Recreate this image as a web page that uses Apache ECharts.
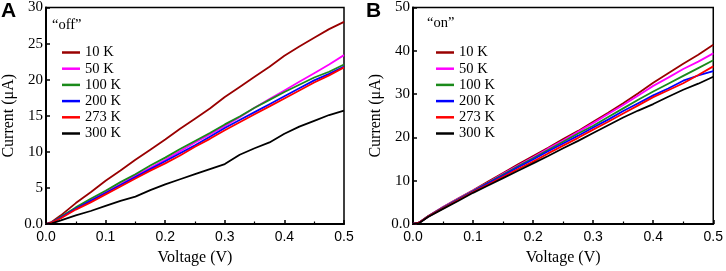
<!DOCTYPE html>
<html><head><meta charset="utf-8">
<script src="https://cdn.jsdelivr.net/npm/echarts@6/dist/echarts.min.js"></script>
<style>html,body{margin:0;padding:0;background:#fff}#c{width:726px;height:271px}</style>
</head><body><div id="c"></div>
<script>
var voltage = [0, 0.01, 0.025, 0.05, 0.075, 0.1, 0.125, 0.15, 0.175, 0.2, 0.225, 0.25, 0.275, 0.3, 0.325, 0.35, 0.375, 0.4, 0.425, 0.45, 0.475, 0.5];
var names = ['10 K', '50 K', '100 K', '200 K', '273 K', '300 K'];
var colors = ['#990000', '#ff00ff', '#1a8a1a', '#0000ff', '#ff0000', '#000000'];
var offCurrent = [
  [0, 0.3, 1.2, 2.9, 4.4, 6.0, 7.4, 8.9, 10.3, 11.7, 13.2, 14.6, 16.0, 17.6, 19.0, 20.4, 21.8, 23.3, 24.6, 25.8, 27.0, 28.0],
  [0, 0.2, 0.9, 2.2, 3.3, 4.4, 5.5, 6.7, 7.8, 8.9, 10.1, 11.3, 12.4, 13.6, 14.8, 16.1, 17.3, 18.5, 19.7, 20.9, 22.1, 23.4],
  [0, 0.2, 1.0, 2.3, 3.5, 4.6, 5.8, 6.9, 8.1, 9.2, 10.4, 11.5, 12.6, 13.8, 14.9, 16.1, 17.2, 18.3, 19.3, 20.3, 21.1, 22.1],
  [0, 0.2, 0.9, 2.1, 3.2, 4.3, 5.4, 6.5, 7.6, 8.7, 9.8, 10.9, 12.1, 13.3, 14.4, 15.5, 16.6, 17.7, 18.8, 19.9, 20.8, 21.8],
  [0, 0.2, 0.8, 2.0, 3.0, 4.1, 5.2, 6.3, 7.4, 8.4, 9.5, 10.7, 11.8, 13.0, 14.1, 15.2, 16.3, 17.4, 18.5, 19.6, 20.6, 21.7],
  [0, 0.1, 0.5, 1.2, 1.8, 2.5, 3.2, 3.8, 4.7, 5.5, 6.2, 6.9, 7.6, 8.3, 9.6, 10.5, 11.3, 12.5, 13.5, 14.3, 15.1, 15.7]
];
var onCurrent = [
  [0, 0.3, 1.8, 3.9, 5.9, 7.8, 9.8, 11.8, 13.8, 15.7, 17.6, 19.6, 21.5, 23.6, 25.7, 27.9, 30.2, 32.6, 34.8, 37.0, 39.1, 41.4],
  [0, 0.3, 1.8, 3.9, 5.8, 7.7, 9.6, 11.6, 13.5, 15.4, 17.4, 19.3, 21.3, 23.3, 25.4, 27.5, 29.7, 31.9, 33.8, 35.8, 37.5, 39.4],
  [0, 0.3, 1.8, 3.8, 5.7, 7.6, 9.5, 11.4, 13.3, 15.2, 17.1, 19.0, 20.9, 22.7, 24.7, 26.7, 28.7, 30.6, 32.4, 34.2, 36.0, 37.8],
  [0, 0.3, 1.7, 3.7, 5.6, 7.5, 9.4, 11.2, 13.1, 14.9, 16.8, 18.6, 20.4, 22.3, 24.1, 26.1, 27.9, 29.7, 31.3, 33.1, 34.3, 35.3],
  [0, 0.3, 1.7, 3.6, 5.5, 7.4, 9.1, 10.9, 12.7, 14.4, 16.3, 18.1, 19.9, 21.8, 23.6, 25.5, 27.4, 29.3, 30.9, 32.5, 34.4, 36.4],
  [0, 0.2, 1.6, 3.5, 5.3, 7.2, 8.9, 10.6, 12.3, 14.0, 15.7, 17.5, 19.2, 21.0, 22.8, 24.6, 26.2, 27.7, 29.4, 31.0, 32.4, 34.0]
];
var xTicks = [0, 0.1, 0.2, 0.3, 0.4, 0.5];
var offYMax = 30, onYMax = 50, offYStep = 5, onYStep = 10;

var serif = '"Liberation Serif", "DejaVu Serif", serif';
var sans = '"Liberation Sans", Arial, sans-serif';

function xAxis(gi) {
  return {
    type: 'value', gridIndex: gi, min: xTicks[0], max: xTicks[xTicks.length - 1], interval: 0.1,
    name: 'Voltage (V)', nameLocation: 'middle', nameGap: 26,
    nameTextStyle: {fontFamily: serif, fontSize: 16, color: '#000'},
    axisLine: {show: true, lineStyle: {color: '#000', width: 2}},
    axisTick: {show: true, inside: true, length: 4, lineStyle: {color: '#000', width: 1.5}},
    minorTick: {show: true, splitNumber: 2, length: 2.5, lineStyle: {color: '#000', width: 1.2}},
    splitLine: {show: false},
    axisLabel: {fontFamily: sans, fontSize: 14, color: '#000', margin: 6,
      formatter: function (v) { return v.toFixed(1); }}
  };
}
function yAxis(gi, max, step) {
  return {
    type: 'value', gridIndex: gi, min: 0, max: max, interval: step,
    name: 'Current (\u03bcA)', nameLocation: 'middle', nameGap: 29,
    nameTextStyle: {fontFamily: serif, fontSize: 16, color: '#000'},
    axisLine: {show: true, lineStyle: {color: '#000', width: 2}},
    axisTick: {show: true, inside: true, length: 4, lineStyle: {color: '#000', width: 1.5}},
    splitLine: {show: false},
    axisLabel: {fontFamily: serif, fontSize: 15, color: '#000', margin: 3,
      formatter: function (v) { return v === 0 ? '0.0' : String(v); }}
  };
}
var series = [];
names.forEach(function (n, i) {
  series.push({name: n, type: 'line', xAxisIndex: 0, yAxisIndex: 0, showSymbol: false, smooth: false,
    lineStyle: {color: colors[i], width: 1.8}, itemStyle: {color: colors[i]},
    data: voltage.map(function (v, k) { return [v, offCurrent[i][k]]; })});
});
names.forEach(function (n, i) {
  series.push({name: n, type: 'line', xAxisIndex: 1, yAxisIndex: 1, showSymbol: false, smooth: false,
    lineStyle: {color: colors[i], width: 1.8}, itemStyle: {color: colors[i]},
    data: voltage.map(function (v, k) { return [v, onCurrent[i][k]]; })});
});
function legend(left) {
  return {data: names, orient: 'vertical', left: left, top: 40, icon: 'rect', itemWidth: 18, itemHeight: 2.5,
    itemGap: 1.2, selectedMode: false,
    textStyle: {fontFamily: serif, fontSize: 14.5, color: '#000', lineHeight: 13, padding: [0, 0, 0, 0]}};
}
var chart = echarts.init(document.getElementById('c'), null, {renderer: 'canvas'});
chart.setOption({
  animation: false,
  backgroundColor: '#fff',
  title: [
    {text: 'A', left: 1, top: 1, textStyle: {fontFamily: sans, fontWeight: 'bold', fontSize: 21, color: '#000'}, padding: 0},
    {text: 'B', left: 366, top: 1, textStyle: {fontFamily: sans, fontWeight: 'bold', fontSize: 21, color: '#000'}, padding: 0},
    {text: '\u201coff\u201d', left: 52, top: 18, textStyle: {fontFamily: serif, fontWeight: 'normal', fontSize: 14.5, color: '#000'}, padding: 0},
    {text: '\u201con\u201d', left: 427, top: 16, textStyle: {fontFamily: serif, fontWeight: 'normal', fontSize: 14.5, color: '#000'}, padding: 0}
  ],
  legend: [legend(57), legend(431)],
  grid: [
    {left: 42, right: 382, top: 6, bottom: 41, show: true, borderColor: '#000', borderWidth: 1.5, backgroundColor: 'transparent'},
    {left: 413, right: 10, top: 6, bottom: 42, show: true, borderColor: '#000', borderWidth: 1.5, backgroundColor: 'transparent'}
  ],
  xAxis: [xAxis(0), xAxis(1)],
  yAxis: [yAxis(0, offYMax, offYStep), yAxis(1, onYMax, onYStep)],
  series: series
});
</script></body></html>
